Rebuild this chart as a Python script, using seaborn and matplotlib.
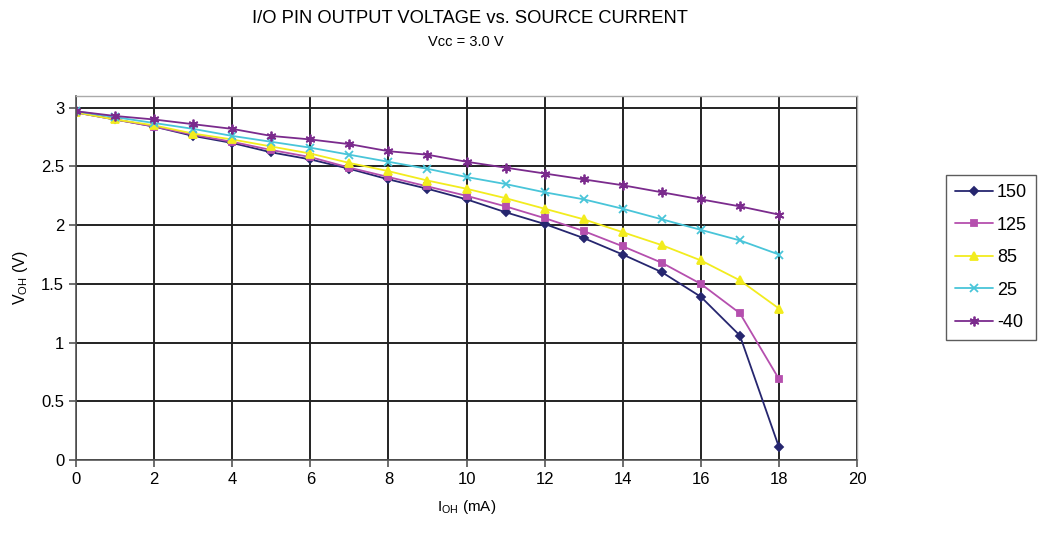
import numpy as np
import pandas as pd
import seaborn as sns
import matplotlib.pyplot as plt

# source current I_OH (mA)
current = list(range(19))

# V_OH (V) per temperature series
v_150 = [2.96, 2.90, 2.84, 2.76, 2.70, 2.62, 2.56, 2.48, 2.39, 2.31,
         2.22, 2.11, 2.01, 1.89, 1.75, 1.60, 1.39, 1.06, 0.11]
v_125 = [2.96, 2.90, 2.84, 2.77, 2.71, 2.64, 2.58, 2.49, 2.41, 2.33,
         2.25, 2.16, 2.06, 1.95, 1.82, 1.68, 1.50, 1.25, 0.69]
v_85 = [2.96, 2.90, 2.85, 2.78, 2.73, 2.67, 2.61, 2.53, 2.46, 2.38,
        2.31, 2.23, 2.14, 2.05, 1.94, 1.83, 1.70, 1.53, 1.29]
v_25 = [2.97, 2.92, 2.87, 2.82, 2.76, 2.71, 2.66, 2.60, 2.54, 2.48,
        2.41, 2.35, 2.28, 2.22, 2.14, 2.05, 1.96, 1.87, 1.75]
v_m40 = [2.97, 2.93, 2.90, 2.86, 2.82, 2.76, 2.73, 2.69, 2.63, 2.60,
         2.54, 2.49, 2.44, 2.39, 2.34, 2.28, 2.22, 2.16, 2.09]

labels = ["150", "125", "85", "25", "-40"]
series = [v_150, v_125, v_85, v_25, v_m40]
colors = ["#26266f", "#b54fae", "#f2ec1e", "#49c5d9", "#7b2b8d"]
markers = ["D", "s", "^", "x", (6, 2, 0)]
msizes = [4.5, 5, 6, 6, 7]

sns.set_style("white")
plt.rcParams["font.family"] = ["Liberation Sans", "DejaVu Sans"]
plt.rcParams["text.color"] = "black"
plt.rcParams["axes.labelcolor"] = "black"
plt.rcParams["xtick.color"] = "black"
plt.rcParams["ytick.color"] = "black"

fig = plt.figure(figsize=(10.43, 5.34), dpi=100)
ax = fig.add_axes([0.0729, 0.1386, 0.7488, 0.6816])

for lab, vals, col, mk, ms in zip(labels, series, colors, markers, msizes):
    df = pd.DataFrame({"I": current, "V": vals})
    sns.lineplot(data=df, x="I", y="V", ax=ax, color=col, marker=mk,
                 markersize=ms, markeredgecolor=col, markeredgewidth=1.3,
                 linewidth=1.3, label=lab)

ax.set_xlim(0, 20)
ax.set_ylim(0, 3.1)
ax.set_xticks(np.arange(0, 21, 2))
ax.set_yticks(np.arange(0, 3.01, 0.5))
ax.set_yticklabels(["0", "0.5", "1", "1.5", "2", "2.5", "3"])
ax.grid(True, color="#222222", linewidth=1.4)
ax.set_axisbelow(True)
for side in ["top", "right"]:
    ax.spines[side].set_color("#aaaaaa")
    ax.spines[side].set_linewidth(1.0)
for side in ["left", "bottom"]:
    ax.spines[side].set_color("#555555")
    ax.spines[side].set_linewidth(1.2)
ax.tick_params(axis="both", direction="out", length=5, width=1.2,
               color="#555555", labelsize=12, left=True, bottom=True)

ax.set_xlabel(r"I$_{\mathregular{OH}}$ (mA)", fontsize=11, labelpad=8)
ax.set_ylabel(r"V$_{\mathregular{OH}}$ (V)", fontsize=11.5, labelpad=8)

fig.text(0.451, 0.966, "I/O PIN OUTPUT VOLTAGE vs. SOURCE CURRENT",
         ha="center", va="center", fontsize=13.2)
fig.text(0.447, 0.921, "Vcc = 3.0 V", ha="center", va="center", fontsize=10.5)

ax.get_legend().remove()
handles, labs = ax.get_legend_handles_labels()
leg = fig.legend(handles, labs, loc="upper left",
                 bbox_to_anchor=(0.907, 0.672), frameon=True, fancybox=False,
                 edgecolor="#333333", fontsize=13, handlelength=2.1,
                 labelspacing=0.86, borderpad=0.5, handletextpad=0.22,
                 borderaxespad=0)
leg.get_frame().set_linewidth(1.0)

fig.savefig("out.png", dpi=100)
